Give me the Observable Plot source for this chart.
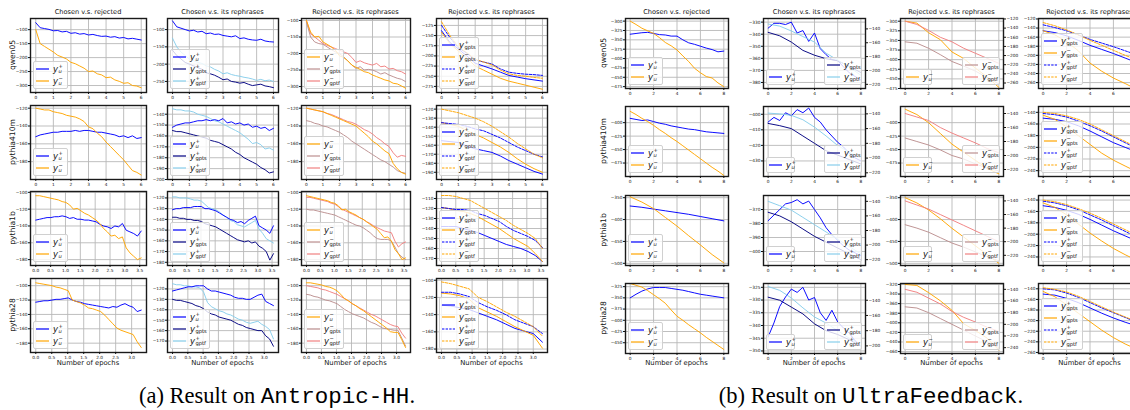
<!DOCTYPE html>
<html><head><meta charset="utf-8">
<script src="https://cdn.jsdelivr.net/npm/d3@7"></script>
<script src="https://cdn.jsdelivr.net/npm/@observablehq/plot@0.6"></script>
<style>
body{margin:0;background:#fff}
#root{position:relative;width:1130px;height:410px;overflow:hidden;background:#fff;font-family:'DejaVu Sans',sans-serif;color:#000}
#root svg{position:absolute;overflow:visible}
.t{position:absolute;white-space:nowrap;transform:translateX(-50%);font-size:6.6px;line-height:1;color:#111}
.rl{position:absolute;white-space:nowrap;font-size:7.6px;line-height:1;color:#111;transform:translate(-50%,-50%) rotate(-90deg)}
.xl{position:absolute;white-space:nowrap;font-size:6.8px;line-height:1;color:#111;transform:translateX(-50%)}
.leg{position:absolute;background:rgba(255,255,255,0.8);border:0.7px solid #d0d0d0;border-radius:2px;padding:1px 3px 1px 2px;box-sizing:border-box}
.le{display:flex;align-items:center;height:12px}
.le svg{position:static!important;margin-right:4px}
.m{display:inline-flex;align-items:center;font-size:8.5px;font-family:'DejaVu Sans',sans-serif;color:#111}
.m .y{font-style:italic}
.ss{display:inline-flex;flex-direction:column;font-size:5.2px;line-height:4.6px;margin-left:0.4px}
.cap{position:absolute;white-space:nowrap;transform:translateX(-50%);font-family:'Liberation Serif',serif;font-size:22.5px;line-height:1;color:#000}
.cap .mono{font-family:'Liberation Mono',monospace}
</style></head>
<body><div id="root"></div>
<script>
// ---------------- DATA ----------------
const titles = ["Chosen v.s. rejected","Chosen v.s. its rephrases","Rejected v.s. its rephrases","Rejected v.s. its rephrases"];
const models = ["qwen05","pythia410m","pythia1b","pythia28"];
const xmaxA = [6, 6, 3.55, 3.3];
const xticksA = [[0,1,2,3,4,5,6],[0,1,2,3,4,5,6],[0,0.5,1,1.5,2,2.5,3,3.5],[0,0.5,1,1.5,2,2.5,3]];
const xmaxB = [8, 8, 8, 8];
const xticksB = [0,2,4,6,8];

// (a) Antropic-HH, qwen05
const A_q_c1_up = [-75,-93,-96,-99,-104,-103,-108,-106,-113,-111,-116,-114,-119,-117,-121,-124,-123,-127,-125,-130,-128,-133,-131,-134,-137];
const A_q_c1_un = [-100,-150,-160,-170,-180,-192,-198,-205,-217,-222,-230,-238,-250,-248,-258,-262,-272,-270,-280,-285,-292,-290,-300,-302,-308];
const A_q_c2_up = [-75,-92,-96,-100,-104,-102,-107,-105,-112,-110,-114,-113,-117,-119,-121,-118,-126,-124,-128,-130,-131,-128,-133,-135,-136];
const A_q_c2_gpts = [-160,-175,-185,-195,-200,-205,-210,-215,-225,-228,-232,-238,-245,-243,-250,-252,-255,-253,-258,-262,-260,-258,-263,-265,-268];
const A_q_c2_gptf = [-125,-150,-165,-175,-185,-190,-195,-198,-205,-208,-215,-220,-228,-225,-230,-233,-235,-238,-240,-243,-247,-244,-248,-246,-250];
const A_q_c3_un = [-100,-135,-150,-148,-165,-172,-180,-190,-207,-212,-222,-235,-242,-248,-255,-258,-265,-270,-275,-280,-283,-290,-292,-298,-305];
const A_q_c3_gpts = [-105,-150,-165,-170,-172,-180,-188,-195,-200,-210,-222,-235,-245,-240,-250,-248,-250,-255,-262,-258,-265,-270,-275,-278,-285];
const A_q_c3_gptf = [-100,-140,-150,-160,-170,-175,-180,-185,-190,-195,-200,-212,-227,-222,-228,-232,-235,-230,-240,-238,-247,-245,-252,-255,-262];
const A_q_c4_gpts_p = [-138,-167,-183,-200,-218,-225,-232,-240,-248,-252,-256,-259,-262];
const A_q_c4_gpts_n = [-142,-170,-188,-205,-225,-235,-245,-255,-262,-267,-272,-277,-282];
const A_q_c4_gptf_p = [-125,-155,-180,-193,-210,-215,-220,-232,-240,-243,-245,-246,-248];
const A_q_c4_gptf_n = [-116,-150,-178,-192,-208,-215,-222,-235,-244,-248,-250,-253,-255];
// (a) pythia410m
const A_p4_c1_un = [-120,-121,-122,-122,-124,-125,-126,-128,-129,-130,-132,-135,-141,-143,-148,-152,-158,-163,-168,-173,-178,-184,-190,-192,-195];
const A_p4_c1_up = [-152,-150,-149,-148,-147,-147,-146,-146,-146,-145,-146,-145,-145,-146,-147,-147,-148,-149,-150,-152,-151,-153,-151,-154,-153];
const A_p4_c2_up = [-152,-150,-149,-148,-148,-147,-146,-146,-145,-146,-145,-146,-144,-148,-147,-149,-148,-150,-149,-152,-151,-153,-152,-155,-153];
const A_p4_c2_gpts = [-155,-156,-156,-157,-158,-159,-160,-161,-162,-164,-165,-166,-168,-170,-172,-175,-177,-180,-182,-184,-186,-189,-191,-194,-193];
const A_p4_c2_gptf = [-135,-136,-136,-137,-137,-138,-140,-141,-142,-144,-146,-147,-149,-151,-153,-155,-157,-160,-163,-167,-166,-168,-172,-171,-173];
const A_p4_c3_un = [-120,-121,-122,-123,-124,-126,-128,-130,-132,-134,-136,-138,-140,-144,-148,-152,-157,-160,-164,-168,-171,-182,-188,-192,-194];
const A_p4_c3_gpts = [-134,-135,-137,-138,-140,-141,-143,-145,-147,-150,-153,-157,-160,-163,-166,-169,-172,-175,-178,-180,-183,-186,-190,-192,-193];
const A_p4_c3_gptf = [-120,-121,-122,-123,-124,-126,-127,-129,-131,-133,-135,-136,-138,-141,-144,-146,-149,-153,-156,-160,-163,-170,-175,-173,-174];
const A_p4_c4_gpts_p = [-155,-156,-157,-161,-164,-166,-168,-172,-177,-181,-185,-189,-192];
const A_p4_c4_gpts_n = [-135,-137,-139,-144,-148,-152,-157,-162,-168,-175,-181,-186,-190];
const A_p4_c4_gptf_p = [-135,-136,-137,-139,-142,-144,-148,-152,-157,-162,-166,-170,-173];
const A_p4_c4_gptf_n = [-120,-122,-124,-127,-130,-134,-139,-145,-151,-158,-164,-170,-174];
// (a) pythia1b
const A_p1_c1_un = [-104,-104,-105,-106,-107,-108,-109,-111,-112,-115,-120,-119,-122,-125,-127,-130,-133,-137,-143,-147,-152,-151,-155,-153,-166,-172,-176,-180,-178];
const A_p1_c1_up = [-133,-132,-131,-130,-130,-129,-129,-128,-129,-131,-130,-132,-132,-133,-133,-134,-135,-138,-140,-141,-143,-140,-141,-137,-145,-147,-149,-152,-146];
const A_p1_c2_up = [-131,-130,-130,-129,-129,-129,-128,-128,-128,-130,-130,-131,-132,-134,-136,-138,-140,-141,-143,-142,-144,-141,-139,-137,-146,-148,-150,-153,-146];
const A_p1_c2_gpts = [-138,-138,-139,-139,-140,-140,-141,-141,-142,-144,-145,-146,-147,-149,-151,-153,-155,-157,-159,-160,-161,-160,-162,-161,-165,-167,-170,-178,-172];
const A_p1_c2_gptf = [-119,-119,-120,-120,-120,-121,-122,-122,-123,-126,-129,-130,-131,-133,-136,-138,-141,-142,-145,-146,-147,-145,-143,-141,-149,-153,-158,-160,-162];
const A_p1_c3_un = [-104,-105,-106,-107,-108,-109,-110,-112,-113,-116,-121,-120,-123,-125,-127,-130,-132,-135,-138,-141,-144,-149,-154,-153,-158,-168,-173,-180,-178];
const A_p1_c3_gpts = [-120,-121,-121,-122,-123,-124,-125,-126,-127,-129,-131,-133,-135,-137,-139,-140,-142,-145,-148,-152,-155,-156,-156,-156,-158,-165,-173,-177,-180];
const A_p1_c3_gptf = [-106,-106,-107,-108,-109,-110,-111,-113,-114,-117,-120,-122,-124,-126,-128,-130,-132,-135,-137,-140,-142,-144,-146,-147,-148,-158,-165,-161,-159];
const A_p1_c4_gpts_p = [-138,-138,-138,-140,-142,-144,-147,-150,-153,-156,-158,-160,-163,-167,-173];
const A_p1_c4_gpts_n = [-119,-120,-122,-123,-125,-128,-132,-136,-140,-145,-150,-154,-158,-165,-173];
const A_p1_c4_gptf_p = [-119,-120,-121,-121,-122,-125,-127,-130,-133,-138,-142,-145,-148,-152,-159];
const A_p1_c4_gptf_n = [-107,-107,-108,-110,-112,-116,-120,-124,-128,-132,-137,-141,-145,-150,-160];
// (a) pythia28
const A_p28_c1_un = [-96,-97,-98,-99,-100,-102,-103,-105,-107,-120,-122,-124,-127,-131,-132,-134,-136,-141,-147,-153,-159,-162,-164,-166,-168,-178,-186];
const A_p28_c1_up = [-123,-122,-121,-121,-120,-119,-119,-118,-117,-120,-122,-123,-125,-126,-127,-128,-129,-130,-131,-129,-130,-127,-125,-128,-130,-136,-134];
const A_p28_c2_up = [-122,-121,-120,-119,-118,-118,-117,-117,-117,-120,-122,-122,-123,-124,-125,-126,-128,-129,-129,-130,-130,-128,-126,-125,-132,-134,-136];
const A_p28_c2_gpts = [-130,-131,-131,-132,-133,-134,-136,-137,-139,-142,-144,-145,-147,-148,-149,-150,-152,-154,-155,-157,-158,-159,-160,-160,-165,-168,-175];
const A_p28_c2_gptf = [-115,-116,-116,-117,-117,-118,-118,-119,-123,-133,-137,-139,-141,-142,-144,-145,-147,-149,-150,-152,-153,-152,-151,-154,-156,-159,-168];
const A_p28_c3_un = [-96,-96,-97,-98,-99,-101,-102,-104,-107,-112,-118,-121,-125,-128,-132,-135,-139,-143,-147,-151,-155,-159,-164,-165,-165,-175,-186];
const A_p28_c3_gpts = [-112,-113,-115,-116,-118,-120,-121,-123,-125,-129,-133,-136,-139,-141,-143,-145,-148,-151,-153,-156,-159,-160,-161,-162,-162,-173,-184];
const A_p28_c3_gptf = [-100,-101,-102,-103,-105,-106,-108,-110,-112,-115,-118,-121,-125,-128,-131,-134,-137,-140,-142,-145,-148,-151,-154,-156,-157,-166,-173];
const A_p28_c4_gpts_p = [-129,-130,-132,-134,-138,-142,-146,-151,-156,-159,-162,-172];
const A_p28_c4_gpts_n = [-115,-116,-118,-122,-132,-137,-142,-148,-154,-159,-164,-179];
const A_p28_c4_gptf_p = [-114,-114,-116,-119,-126,-131,-135,-140,-146,-150,-154,-162];
const A_p28_c4_gptf_n = [-102,-104,-107,-110,-120,-125,-131,-137,-142,-148,-154,-165];

// (b) UltraFeedback, qwen05
const B_q_c1_up = [-335,-333,-331,-330,-333,-336,-337,-340,-340,-350,-358,-362,-367,-372,-376,-382,-380];
const B_q_c1_un = [-300,-309,-319,-326,-333,-344,-357,-366,-377,-393,-408,-426,-438,-448,-452,-465,-475];
const B_q_c2_up = [-335,-331,-331,-332,-330,-339,-337,-346,-339,-352,-357,-361,-362,-367,-372,-375,-378];
const B_q_c2_gpts = [-145,-150,-159,-171,-178,-183,-186,-194,-203];
const B_q_c2_gptf = [-133,-136,-143,-151,-159,-175,-185,-195,-207];
const B_q_c3_un = [-300,-305,-330,-348,-380,-397,-422,-445,-472];
const B_q_c3_gpts = [-170,-173,-184,-198,-213,-223,-234,-248,-262];
const B_q_c3_gptf = [-125,-132,-145,-160,-170,-184,-195,-206,-217];
const B_q_c4_gpts_p = [-146,-150,-157,-167,-178,-187,-196,-206,-216];
const B_q_c4_gpts_n = [-146,-155,-170,-190,-217,-235,-250,-262,-275];
const B_q_c4_gptf_p = [-133,-139,-146,-155,-165,-173,-181,-190,-199];
const B_q_c4_gptf_n = [-128,-135,-144,-155,-167,-178,-189,-200,-210];
// (b) pythia410m
const B_p4_c1_up = [-392,-394,-396,-395,-398,-401,-403,-406,-408,-410,-412,-413,-415,-417,-418,-419,-420];
const B_p4_c1_un = [-379,-385,-392,-398,-405,-413,-420,-428,-435,-443,-451,-459,-467,-475,-483,-490,-498];
const B_p4_c2_up = [-405,-402,-404,-399,-401,-397,-399,-396,-402,-405,-410,-414,-418,-421,-425,-428,-430];
const B_p4_c2_gpts = [-153,-156,-160,-170,-180,-190,-196,-202,-208];
const B_p4_c2_gptf = [-139,-140,-142,-148,-158,-170,-183,-192,-200];
const B_p4_c3_un = [-375,-385,-400,-420,-440,-455,-470,-485,-495];
const B_p4_c3_gpts = [-175,-180,-185,-192,-200,-205,-212,-218,-222];
const B_p4_c3_gptf = [-140,-145,-150,-160,-168,-175,-182,-190,-196];
const B_p4_c4_gpts_p = [-150,-152,-156,-163,-172,-182,-192,-200,-208];
const B_p4_c4_gpts_n = [-145,-152,-165,-180,-195,-210,-222,-232,-242];
const B_p4_c4_gptf_p = [-142,-144,-148,-155,-163,-172,-182,-192,-202];
const B_p4_c4_gptf_n = [-140,-142,-146,-152,-160,-170,-180,-190,-200];
// (b) pythia1b
const B_p1_c1_up = [-369,-372,-376,-380,-384,-388,-393,-398,-403];
const B_p1_c1_un = [-348,-360,-375,-395,-415,-437,-458,-480,-499];
const B_p1_c2_up = [-378,-374,-370,-366,-365,-363,-366,-364,-370,-376,-383,-388,-392,-396,-399,-401,-403];
const B_p1_c2_gpts = [-155,-160,-168,-178,-188,-196,-204,-212,-220];
const B_p1_c2_gptf = [-140,-146,-152,-162,-172,-182,-192,-202,-212];
const B_p1_c3_un = [-350,-362,-378,-398,-420,-440,-460,-480,-500];
const B_p1_c3_gpts = [-175,-180,-186,-194,-202,-208,-215,-222,-228];
const B_p1_c3_gptf = [-140,-146,-152,-160,-168,-176,-184,-192,-200];
const B_p1_c4_gpts_p = [-150,-153,-158,-165,-174,-184,-194,-203,-212];
const B_p1_c4_gpts_n = [-145,-153,-166,-182,-198,-212,-225,-236,-246];
const B_p1_c4_gptf_p = [-142,-145,-150,-157,-166,-175,-185,-195,-205];
const B_p1_c4_gptf_n = [-140,-143,-148,-155,-163,-172,-182,-192,-202];
// (b) pythia28
const B_p28_c1_up = [-350,-342,-335,-330,-327,-327,-327,-329,-331,-333,-336,-339,-342,-344,-346,-348,-350];
const B_p28_c1_un = [-318,-322,-326,-334,-343,-352,-362,-377,-391,-400,-410,-419,-428,-438,-447,-456,-465];
const B_p28_c2_up = [-344.5,-339,-332.5,-328.8,-325.7,-327,-325,-330,-329,-335,-338,-334,-338.6,-341,-343,-346,-348];
const B_p28_c2_gpts = [-136,-140,-149,-158,-171,-180,-185,-192,-200];
const B_p28_c2_gptf = [-122,-127,-137,-150,-162,-170,-180,-190,-200];
const B_p28_c3_un = [-320,-322,-337,-354,-374,-402,-416,-432,-457];
const B_p28_c3_gpts = [-170,-172,-180,-190,-200,-210,-220,-230,-240];
const B_p28_c3_gptf = [-140,-145,-155,-165,-178,-188,-196,-205,-212];
const B_p28_c4_gpts_p = [-150,-152,-158,-166,-176,-186,-195,-203,-210];
const B_p28_c4_gpts_n = [-145,-155,-170,-186,-202,-218,-232,-244,-254];
const B_p28_c4_gptf_p = [-140,-142,-148,-156,-166,-176,-185,-194,-203];
const B_p28_c4_gptf_n = [-138,-141,-146,-154,-164,-174,-184,-193,-202];

// y axis domains & ticks (left) per panel, row-major
const A_dom = [
 [[-325,-60],[-100,-150,-200,-250,-300]], [[-282,-68],[-100,-150,-200,-250]], [[-318,-94],[-100,-150,-200,-250,-300]], [[-290,-108],[-125,-150,-175,-200,-225,-250,-275]],
 [[-200,-117],[-120,-140,-160,-180]], [[-200,-132],[-140,-150,-160,-170,-180,-190,-200]], [[-200,-117],[-120,-140,-160,-180]], [[-198,-116],[-120,-130,-140,-150,-160,-170,-180,-190]],
 [[-187,-99],[-100,-120,-140,-160,-180]], [[-183,-114],[-120,-130,-140,-150,-160,-170,-180]], [[-187,-99],[-100,-120,-140,-160,-180]], [[-177,-103],[-110,-120,-130,-140,-150,-160,-170]],
 [[-193,-90],[-100,-120,-140,-160,-180]], [[-181,-110],[-120,-130,-140,-150,-160,-170]], [[-193,-90],[-100,-120,-140,-160,-180]], [[-184,-98],[-100,-120,-140,-160,-180]]
];
const B_dom = [
 [[-480,-293],[-300,-325,-350,-375,-400,-425,-450,-475]], [[-385,-327],[-330,-340,-350,-360,-370,-380]], [[-475,-293],[-300,-325,-350,-375,-400,-425,-450,-475]], [[-273,-119],[-120,-140,-160,-180,-200,-220,-240,-260]],
 [[-500,-370],[-400,-425,-450,-475]], [[-440,-395],[-400,-410,-420,-430]], [[-500,-370],[-400,-425,-450,-475]], [[-250,-130],[-140,-160,-180,-200,-220,-240]],
 [[-505,-345],[-350,-400,-450,-500]], [[-410,-360],[-370,-380,-390,-400]], [[-505,-345],[-350,-400,-450,-500]], [[-255,-132],[-140,-160,-180,-200,-220,-240]],
 [[-474,-318],[-325,-350,-375,-400,-425,-450]], [[-351,-323.5],[-325,-330,-335,-340,-345,-350]], [[-464,-318],[-320,-340,-360,-380,-400,-420,-440,-460]], [[-262,-130],[-140,-160,-180,-200,-220,-240,-260]]
];
// right-hand (twin) axes of panel (b), columns 2 and 3
const B_rdom = {
 "0-1": [[-226,-125],[-140,-160,-180,-200,-220]], "0-2": [[-272,-119],[-120,-140,-160,-180,-200,-220,-240,-260]],
 "1-1": [[-225,-130],[-140,-160,-180,-200,-220]], "1-2": [[-230,-130],[-140,-160,-180,-200,-220]],
 "2-1": [[-228,-132],[-140,-160,-180,-200,-220]], "2-2": [[-235,-132],[-140,-160,-180,-200,-220]],
 "3-1": [[-210,-118],[-140,-160,-180,-200]], "3-2": [[-250,-130],[-140,-160,-180,-200,-220,-240]]
};

// ---------------- STYLE ----------------
const C = {u_pos:"#0000ff", u_neg:"#ffa500", gpts_p:"#000080", gptf_p:"#87ceeb", gpts_n:"#bc8f8f", gptf_n:"#f08080", c4_p:"#0000ff", c4_n:"#ffa500"};
const LAB = {
  up: ['+','u',true], un: ['−','u',true], gpts_p: ['+','gpts',false], gptf_p: ['+','gptf',false],
  gpts_n: ['−','gpts',false], gptf_n: ['−','gptf',false]
};
const root = document.getElementById('root');
const minus = d => (d < 0 ? "\u2212" : "") + Math.abs(d);

function series(arr, xmax) { const n = arr.length; return arr.map((y, i) => ({x: i * xmax / (n - 1), y})); }

function drawAxes({L, T, W, H, xdom, xticks, xfmt, ydom, yticks, lines, side, base}) {
  const mL = 24, mR = 24, mT = 4, mB = 12;
  const marks = [];
  if (base) {
    marks.push(Plot.gridX(xticks, {stroke:"#b8b8b8", strokeOpacity:1, strokeWidth:0.9}));
    marks.push(Plot.gridY(yticks, {stroke:"#b8b8b8", strokeOpacity:1, strokeWidth:0.9}));
  }
  for (const s of lines) marks.push(Plot.line(s.data, {x:"x", y:"y", stroke:s.color, strokeWidth:0.95, strokeDasharray:s.dash || null, clip:true}));
  if (base) {
    marks.push(Plot.frame({stroke:"#1a1a1a", strokeWidth:1.4}));
    marks.push(Plot.axisX(xticks, {tickSize:2, tickPadding:1.5, tickFormat:xfmt, fontSize:4.3, label:null}));
  }
  marks.push(Plot.axisY(yticks, {anchor:side, tickSize:2, tickPadding:1, tickFormat:minus, fontSize:4.3, label:null}));
  const svg = Plot.plot({
    width: W + mL + mR, height: H + mT + mB, marginLeft: mL, marginRight: mR, marginTop: mT, marginBottom: mB,
    x: {domain: xdom, label: null, axis: base ? undefined : null}, y: {domain: ydom, label: null},
    style: {background:"transparent", fontFamily:"DejaVu Sans", color:"#111", overflow:"visible"},
    marks
  });
  svg.style.left = (L - mL) + "px"; svg.style.top = (T - mT) + "px";
  root.appendChild(svg);
}

function mathLabel(key) {
  const [sp, sb, it] = LAB[key];
  return `<span class="m"><span class="y">y</span><span class="ss"><span>${sp}</span><span>${it ? '<i>'+sb+'</i>' : sb}</span></span></span>`;
}
function legend({L, T, W, H, corner, entries, width}) {
  const d = document.createElement('div');
  d.className = 'leg';
  d.style.width = width + 'px';
  d.innerHTML = entries.map(e => `<div class="le"><svg width="13" height="4"><line x1="0" y1="2" x2="13" y2="2" stroke="${e.color}" stroke-width="1.2" ${e.dash ? 'stroke-dasharray="2.4,1.2"' : ''}/></svg>${mathLabel(e.key)}</div>`).join('');
  d.style.bottom = (410 - (T + H - 3)) + 'px';
  if (corner === 'bl') d.style.left = (L + 3) + 'px'; else d.style.right = (1130 - (L + W - 3)) + 'px';
  root.appendChild(d);
}
function text(cls, x, y, s) { const d = document.createElement('div'); d.className = cls; d.style.left = x + 'px'; d.style.top = y + 'px'; d.innerHTML = s; root.appendChild(d); }

const A = {
  q: [A_q_c1_up, A_q_c1_un, A_q_c2_up, A_q_c2_gpts, A_q_c2_gptf, A_q_c3_un, A_q_c3_gpts, A_q_c3_gptf, A_q_c4_gpts_p, A_q_c4_gpts_n, A_q_c4_gptf_p, A_q_c4_gptf_n],
  p4: [A_p4_c1_up, A_p4_c1_un, A_p4_c2_up, A_p4_c2_gpts, A_p4_c2_gptf, A_p4_c3_un, A_p4_c3_gpts, A_p4_c3_gptf, A_p4_c4_gpts_p, A_p4_c4_gpts_n, A_p4_c4_gptf_p, A_p4_c4_gptf_n],
  p1: [A_p1_c1_up, A_p1_c1_un, A_p1_c2_up, A_p1_c2_gpts, A_p1_c2_gptf, A_p1_c3_un, A_p1_c3_gpts, A_p1_c3_gptf, A_p1_c4_gpts_p, A_p1_c4_gpts_n, A_p1_c4_gptf_p, A_p1_c4_gptf_n],
  p28: [A_p28_c1_up, A_p28_c1_un, A_p28_c2_up, A_p28_c2_gpts, A_p28_c2_gptf, A_p28_c3_un, A_p28_c3_gpts, A_p28_c3_gptf, A_p28_c4_gpts_p, A_p28_c4_gpts_n, A_p28_c4_gptf_p, A_p28_c4_gptf_n]
};
const B = {
  q: [B_q_c1_up, B_q_c1_un, B_q_c2_up, B_q_c2_gpts, B_q_c2_gptf, B_q_c3_un, B_q_c3_gpts, B_q_c3_gptf, B_q_c4_gpts_p, B_q_c4_gpts_n, B_q_c4_gptf_p, B_q_c4_gptf_n],
  p4: [B_p4_c1_up, B_p4_c1_un, B_p4_c2_up, B_p4_c2_gpts, B_p4_c2_gptf, B_p4_c3_un, B_p4_c3_gpts, B_p4_c3_gptf, B_p4_c4_gpts_p, B_p4_c4_gpts_n, B_p4_c4_gptf_p, B_p4_c4_gptf_n],
  p1: [B_p1_c1_up, B_p1_c1_un, B_p1_c2_up, B_p1_c2_gpts, B_p1_c2_gptf, B_p1_c3_un, B_p1_c3_gpts, B_p1_c3_gptf, B_p1_c4_gpts_p, B_p1_c4_gpts_n, B_p1_c4_gptf_p, B_p1_c4_gptf_n],
  p28: [B_p28_c1_up, B_p28_c1_un, B_p28_c2_up, B_p28_c2_gpts, B_p28_c2_gptf, B_p28_c3_un, B_p28_c3_gpts, B_p28_c3_gptf, B_p28_c4_gpts_p, B_p28_c4_gpts_n, B_p28_c4_gptf_p, B_p28_c4_gptf_n]
};
const keys = ['q','p4','p1','p28'];

// ---------------- PANEL (a) ----------------
const aCols = [[30,116],[167,111],[301,109],[436,111]];
const aRows = [18,105,191,278];
const aH = 74;
keys.forEach((k, r) => {
  const S = A[k], xm = xmaxA[r], xt = xticksA[r];
  const pad = xm * 0.05, xdom = [-pad, xm + pad];
  const xfmt = r >= 2 ? (d => d.toFixed(1)) : (d => String(d));
  const groups = [
    [{d:S[0], c:C.u_pos, k:'up'}, {d:S[1], c:C.u_neg, k:'un'}],
    [{d:S[2], c:C.u_pos, k:'up'}, {d:S[3], c:C.gpts_p, k:'gpts_p'}, {d:S[4], c:C.gptf_p, k:'gptf_p'}],
    [{d:S[5], c:C.u_neg, k:'un'}, {d:S[6], c:C.gpts_n, k:'gpts_n'}, {d:S[7], c:C.gptf_n, k:'gptf_n'}],
    [{d:S[8], c:C.c4_p, k:'gpts_p'}, {d:S[9], c:C.c4_n, k:'gpts_n'}, {d:S[10], c:C.c4_p, k:'gptf_p', dash:"2.6,1.3"}, {d:S[11], c:C.c4_n, k:'gptf_n', dash:"2.6,1.3"}]
  ];
  const orders = [[0,1],[2,0,1],[2,1,0],[0,1,2,3]];
  groups.forEach((g, c) => {
    const [L, W] = aCols[c], T = aRows[r];
    const [ydom, yticks] = A_dom[r*4+c];
    drawAxes({L, T, W, H:aH, xdom, xticks:xt, xfmt, ydom, yticks, side:"left", base:true,
      lines: orders[c].map(i => ({data: series(g[i].d, xm), color: g[i].c, dash: g[i].dash}))});
    legend({L, T, W, H:aH, corner:'bl', width: c === 0 ? 35 : 40, entries: g.map(e => ({color:e.c, dash:e.dash, key:e.k}))});
    if (r === 0) text('t', L + W/2, 9, titles[c]);
    if (r === 3) text('xl', L + W/2, 360, 'Number of epochs');
  });
  text('rl', 13, aRows[r] + aH/2, models[r]);
});

// ---------------- PANEL (b) ----------------
const bCols = [[625,103],[763,102],[900,103],[1038,103]];
const bRows = [18,106,194.5,283];
const bH = 70;
keys.forEach((k, r) => {
  const S = B[k], xm = xmaxB[r];
  const xdom = [-0.4, 8.4];
  const xfmt = d => String(d);
  for (let c = 0; c < 4; c++) {
    const [L, W] = bCols[c], T = bRows[r];
    const [ydom, yticks] = B_dom[r*4+c];
    if (c === 0) {
      drawAxes({L, T, W, H:bH, xdom, xticks:xticksB, xfmt, ydom, yticks, side:"left", base:true,
        lines: [{data: series(S[0], xm), color:C.u_pos}, {data: series(S[1], xm), color:C.u_neg}]});
      legend({L, T, W, H:bH, corner:'bl', width:35, entries:[{color:C.u_pos, key:'up'}, {color:C.u_neg, key:'un'}]});
    } else if (c === 1 || c === 2) {
      const lk = c === 1 ? {d:S[2], col:C.u_pos, key:'up'} : {d:S[5], col:C.u_neg, key:'un'};
      const r1 = c === 1 ? {d:S[3], col:C.gpts_p, key:'gpts_p'} : {d:S[6], col:C.gpts_n, key:'gpts_n'};
      const r2 = c === 1 ? {d:S[4], col:C.gptf_p, key:'gptf_p'} : {d:S[7], col:C.gptf_n, key:'gptf_n'};
      drawAxes({L, T, W, H:bH, xdom, xticks:xticksB, xfmt, ydom, yticks, side:"left", base:true,
        lines: [{data: series(lk.d, xm), color: lk.col}]});
      legend({L, T, W, H:bH, corner:'bl', width:29, entries:[{color:lk.col, key:lk.key}]});
      const [rdom, rticks] = B_rdom[r + "-" + c];
      drawAxes({L, T, W, H:bH, xdom, xticks:xticksB, xfmt, ydom: rdom, yticks: rticks, side:"right", base:false,
        lines: [{data: series(r1.d, xm), color: r1.col}, {data: series(r2.d, xm), color: r2.col}]});
      legend({L, T, W, H:bH, corner:'br', width:38, entries:[{color:r1.col, key:r1.key}, {color:r2.col, key:r2.key}]});
    } else {
      drawAxes({L, T, W, H:bH, xdom, xticks:xticksB, xfmt, ydom, yticks, side:"left", base:true,
        lines: [{data: series(S[8], xm), color:C.c4_p}, {data: series(S[9], xm), color:C.c4_n},
                {data: series(S[10], xm), color:C.c4_p, dash:"2.6,1.3"}, {data: series(S[11], xm), color:C.c4_n, dash:"2.6,1.3"}]});
      legend({L, T, W, H:bH, corner:'bl', width:42, entries:[{color:C.c4_p, key:'gpts_p'}, {color:C.c4_n, key:'gpts_n'}, {color:C.c4_p, dash:true, key:'gptf_p'}, {color:C.c4_n, dash:true, key:'gptf_n'}]});
    }
    if (r === 0) text('t', L + W/2, 9, titles[c]);
    if (r === 3) text('xl', L + W/2, 360, 'Number of epochs');
  }
  text('rl', 604, bRows[r] + bH/2, models[r]);
});

// captions
text('cap', 277, 385, '(a) Result on <span class="mono">Antropic-HH</span>.');
text('cap', 871, 385, '(b) Result on <span class="mono">UltraFeedback</span>.');
</script></body></html>
